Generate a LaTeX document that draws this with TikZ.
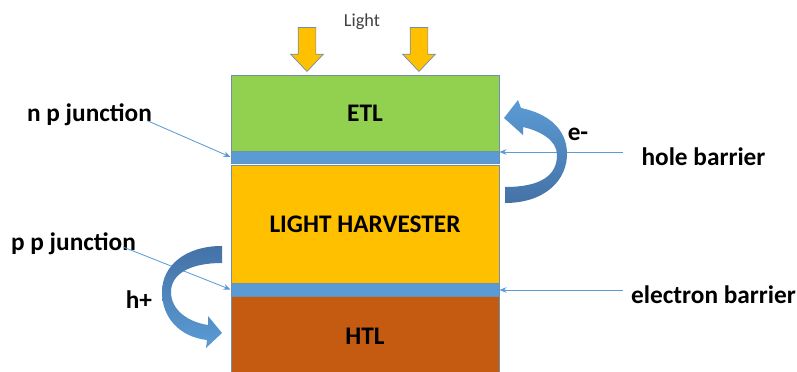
\documentclass[tikz,border=0pt]{standalone}
\usepackage{fontspec}
\setmainfont{Carlito}
\usetikzlibrary{shapes,arrows.meta}
\definecolor{etlgreen}{HTML}{92D050}
\definecolor{barrierblue}{HTML}{5B9BD5}
\definecolor{sungold}{HTML}{FFC000}
\definecolor{htlbrown}{HTML}{C55A11}
\definecolor{edgeblue}{HTML}{6F8FAF}
\definecolor{arrowlight}{HTML}{5B9BD5}
\definecolor{arrowdark}{HTML}{4472A6}
\begin{document}
\begin{tikzpicture}[x=0.025cm,y=-0.025cm,
  layer/.style={shape=rectangle,draw=edgeblue,line width=0.6pt,minimum width=6.7cm,inner sep=0pt,font=\bfseries\fontsize{18}{22}\selectfont},
  tag/.style={inner sep=0pt,font=\bfseries\fontsize{18}{22}\selectfont},
  ray/.style={shape=single arrow,rotate=-90,anchor=tip,fill=sungold,draw=edgeblue,line width=0.5pt,minimum height=1.1cm,minimum width=0.8cm,single arrow head extend=0.1875cm,single arrow tip angle=87,inner sep=0.2125cm},
  pointer/.style={->,>={Stealth[length=5pt,width=4pt]},draw=barrierblue,line width=0.6pt}]
\useasboundingbox (0,0) rectangle (797,372);
\node[layer,fill=etlgreen,minimum height=1.9cm] (0) at (365,113) {ETL};
\node[layer,fill=barrierblue,minimum height=0.3cm] (1) at (365,157) {};
\node[layer,fill=sungold,minimum height=2.95cm] (2) at (365,224) {LIGHT HARVESTER};
\node[layer,fill=barrierblue,minimum height=0.325cm] (3) at (365,289.5) {};
\node[layer,fill=htlbrown,minimum height=2.1cm] (4) at (365,338) {};
\node[tag] at (365,336) {HTL};

\node[font=\fontsize{13}{15}\selectfont,text=black!75] (5) at (362,22) {Light};
\node[ray] (6) at (307,72) {};
\node[ray] (7) at (419,72) {};

\node[tag] (8) at (89.5,115) {n p junction};
\node[tag] (9) at (703.5,157) {hole barrier};
\node[tag] (10) at (73.5,244) {p p junction};
\node[tag] (11) at (713.5,295) {electron barrier};
\node[tag] (12) at (578,134) {e-};
\node[tag] (13) at (139,300) {h+};

\coordinate (c0) at (148,121);
\coordinate (c1) at (623,152);
\coordinate (c2) at (123,247);
\coordinate (c3) at (623,290);
\draw [pointer] (c0) -- (1.west);
\draw [pointer] (c1) -- (c1 -| 1.east);
\draw [pointer] (c2) -- (3.west);
\draw [pointer] (c3) -- (c3 -| 3.east);

% curved arrows for e- and h+
\shade[top color=arrowlight,bottom color=arrowdark] (505,203) .. controls (545,203) and (568,180) .. (567,152) .. controls (566,130) and (550,114) .. (521,108) -- (518,100) -- (504,118) -- (523,135) -- (523,127) .. controls (540,131) and (557,140) .. (557,155) .. controls (557,176) and (540,187) .. (505,187) -- cycle;
\shade[top color=arrowdark,bottom color=arrowlight] (222,246) .. controls (185,246) and (162,266) .. (162,292) .. controls (162,318) and (180,337) .. (207,340) -- (206,348) -- (222,333) -- (208,316) -- (208,325) .. controls (188,322) and (171,310) .. (171,292) .. controls (171,274) and (190,263) .. (222,263) -- cycle;
\end{tikzpicture}
\end{document}
